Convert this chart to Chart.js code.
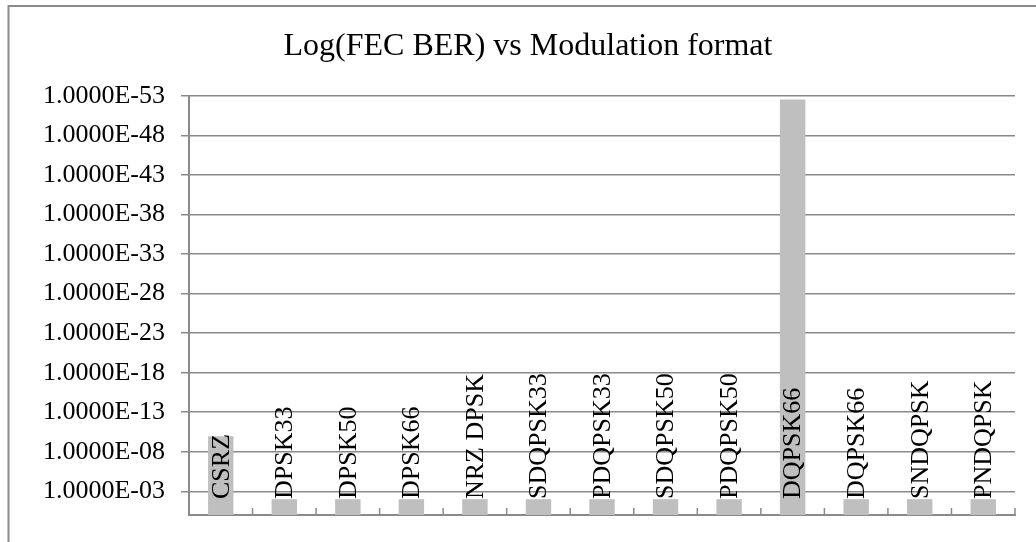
<!DOCTYPE html>
<html>
<head>
<meta charset="utf-8">
<script src="https://cdn.jsdelivr.net/npm/chart.js@4.4.1/dist/chart.umd.min.js"></script>
<style>
  html, body { margin: 0; padding: 0; background: #ffffff; }
  #wrap { width: 1036px; height: 542px; }
</style>
</head>
<body>
<div id="wrap"><canvas id="Chart01" width="1036" height="542"></canvas></div>
<script>
/* Data: BER = 10^-exponent for each modulation format */
const formats = ['CSRZ', 'DPSK33', 'DPSK50', 'DPSK66', 'NRZ DPSK', 'SDQPSK33', 'PDQPSK33',
                 'SDQPSK50', 'PDQPSK50', 'DQPSK66', 'DQPSK66', 'SNDQPSK', 'PNDQPSK'];
const berExponent = [9.95, 2, 2, 2, 2, 2, 2, 2, 2, 52.55, 2, 2, 2];
const yTickExponents = [3, 8, 13, 18, 23, 28, 33, 38, 43, 48, 53];

const serif = '"Liberation Serif", "Times New Roman", serif';
const lineGrey = '#8a8a8a';

/* white page with the grey frame around the chart */
const frame = {
  id: 'frame',
  beforeDraw(chart) {
    const ctx = chart.ctx;
    ctx.save();
    ctx.fillStyle = '#ffffff';
    ctx.fillRect(0, 0, chart.width, chart.height);
    ctx.strokeStyle = lineGrey;
    ctx.lineWidth = 2;
    ctx.strokeRect(8.5, 6, chart.width + 50, chart.height + 50);
    ctx.restore();
  }
};

/* small category tick marks pointing up from the x axis */
const insideTicks = {
  id: 'insideTicks',
  afterDraw(chart) {
    const xs = chart.scales.x;
    const ctx = chart.ctx;
    const step = (xs.right - xs.left) / formats.length;
    ctx.save();
    ctx.strokeStyle = lineGrey;
    ctx.lineWidth = 1.5;
    ctx.beginPath();
    for (let i = 0; i <= formats.length; i++) {
      const x = xs.left + i * step;
      ctx.moveTo(x, xs.top);
      ctx.lineTo(x, xs.top - 7);
    }
    ctx.stroke();
    ctx.restore();
  }
};

/* category names written vertically from the bar base */
const baseLabels = {
  id: 'baseLabels',
  afterDatasetsDraw(chart) {
    const ctx = chart.ctx;
    const meta = chart.getDatasetMeta(0);
    const base = chart.scales.y.getPixelForValue(0);
    ctx.save();
    ctx.fillStyle = '#000000';
    ctx.font = '26px ' + serif;
    ctx.textAlign = 'left';
    ctx.textBaseline = 'middle';
    meta.data.forEach((bar, i) => {
      ctx.save();
      ctx.translate(bar.x + 1, base - 16);
      ctx.rotate(-Math.PI / 2);
      ctx.fillText(formats[i], 0, 0);
      ctx.restore();
    });
    ctx.restore();
  }
};

const config01 = {
  type: 'bar',
  data: {
    labels: formats,
    datasets: [{
      label: 'Log(FEC BER)',
      data: berExponent,
      backgroundColor: '#bfbfbf',
      borderWidth: 0,
      barPercentage: 0.4,
      categoryPercentage: 1
    }]
  },
  options: {
    responsive: false,
    animation: false,
    layout: { padding: { left: 41, right: 21, top: 17, bottom: 0 } },
    plugins: {
      legend: { display: false },
      tooltip: { enabled: false },
      title: {
        display: true,
        text: 'Log(FEC BER) vs Modulation format',
        color: '#000000',
        font: { family: serif, size: 32, weight: 'normal' },
        padding: { top: 10, bottom: 30.6 }
      }
    },
    scales: {
      x: {
        grid: { display: false },
        border: { display: true, color: lineGrey, width: 2 },
        ticks: { display: false },
        afterFit(scale) { scale.height = 27; }
      },
      y: {
        min: 0,
        max: 53,
        afterBuildTicks(scale) {
          scale.ticks = yTickExponents.map(v => ({ value: v }));
        },
        afterFit(scale) {
          scale.width = 148;
          scale.paddingTop = 0;
          scale.paddingBottom = 0;
        },
        grid: { color: lineGrey, lineWidth: 1.5, drawTicks: true, tickLength: 8 },
        border: { display: true, color: lineGrey, width: 2 },
        ticks: {
          color: '#000000',
          padding: 16,
          font: { family: serif, size: 26 },
          callback: v => '1.0000E-' + String(v).padStart(2, '0')
        }
      }
    }
  },
  plugins: [frame, insideTicks, baseLabels]
};

const ctxch01 = document.getElementById('Chart01');
new Chart(ctxch01, config01);
</script>
</body>
</html>
